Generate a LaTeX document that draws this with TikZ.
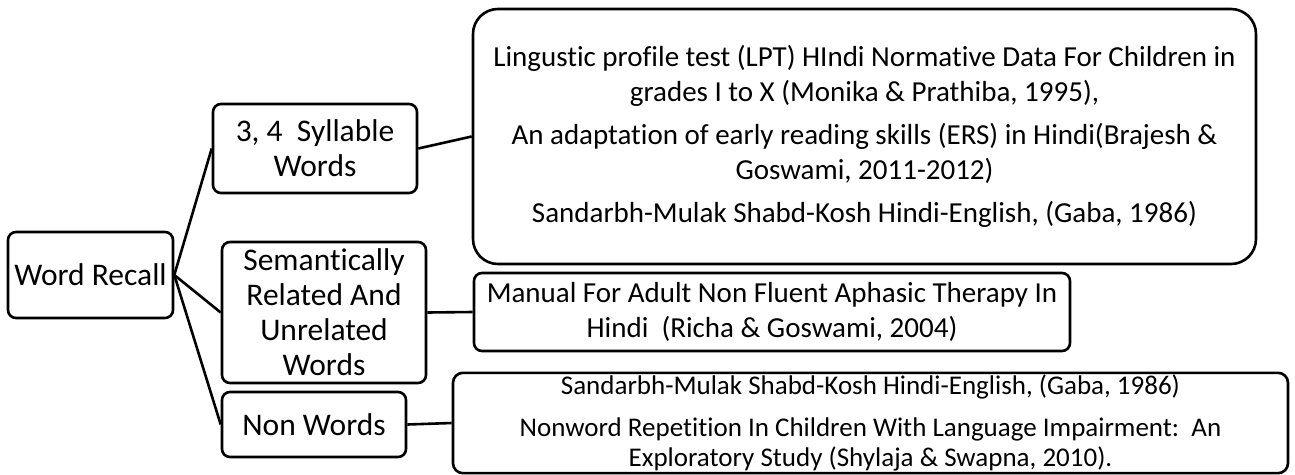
\documentclass[tikz,border=0pt]{standalone}
\usepackage{fontspec}
\setmainfont{Carlito}[Ligatures=NoCommon]

\tikzset{
  box/.style={draw,line width=2.6pt,rounded corners=8pt,align=center,inner sep=2pt},
  lvl/.style={box,font=\fontsize{31.5}{35}\selectfont},
  refbox/.style={box,font=\fontsize{29}{35}\selectfont},
  link/.style={line width=2.6pt}
}

\begin{document}
\begin{tikzpicture}[x=1pt,y=1pt]
  \useasboundingbox (0,0) rectangle (1295,-474);

  % the topic and its three kinds of items
  \node[lvl,minimum width=165pt,minimum height=86pt] (root) at (90.5,-275) {Word Recall};
  \node[lvl,minimum width=204pt,minimum height=89pt] (syl) at (315,-148.5) {3, 4\ \ Syllable\\Words};
  \node[lvl,minimum width=204pt,minimum height=141pt] (sem) at (324,-312.5) {Semantically\\Related And\\Unrelated\\Words};
  \node[lvl,minimum width=184pt,minimum height=65pt] (non) at (314,-424.5) {Non Words};

  % sources for each kind
  \node[refbox,rounded corners=25pt,minimum width=783pt,minimum height=255pt] (lit1) at (864.5,-136.5)
    {Lingustic profile test (LPT) HIndi Normative Data For Children in\\
     grades I to X (Monika \& Prathiba, 1995),\\[8pt]
     An adaptation of early reading skills (ERS) in Hindi(Brajesh \&\\
     Goswami, 2011-2012)\\[8pt]
     Sandarbh-Mulak Shabd-Kosh Hindi-English, (Gaba, 1986)};
  \node[refbox,minimum width=596pt,minimum height=78pt] (lit2) at (772,-312)
    {Manual For Adult Non Fluent Aphasic Therapy In\\
     Hindi\ \ (Richa \& Goswami, 2004)};
  \node[refbox,font=\fontsize{27}{30}\selectfont,rounded corners=10pt,minimum width=835pt,minimum height=98pt] (lit3) at (870.5,-423)
    {Sandarbh-Mulak Shabd-Kosh Hindi-English, (Gaba, 1986)\\[12pt]
     Nonword Repetition In Children With Language Impairment:\ \ An\\
     Exploratory Study (Shylaja \& Swapna, 2010).};

  % connectors
  \foreach \k in {syl,sem,non}
    \draw[link] (root.east) -- (\k.west);
  \draw[link] (syl.east) -- (lit1.west);
  \draw[link] (sem.east) -- (lit2.west);
  \draw[link] (non.east) -- (lit3.west);
\end{tikzpicture}
\end{document}
